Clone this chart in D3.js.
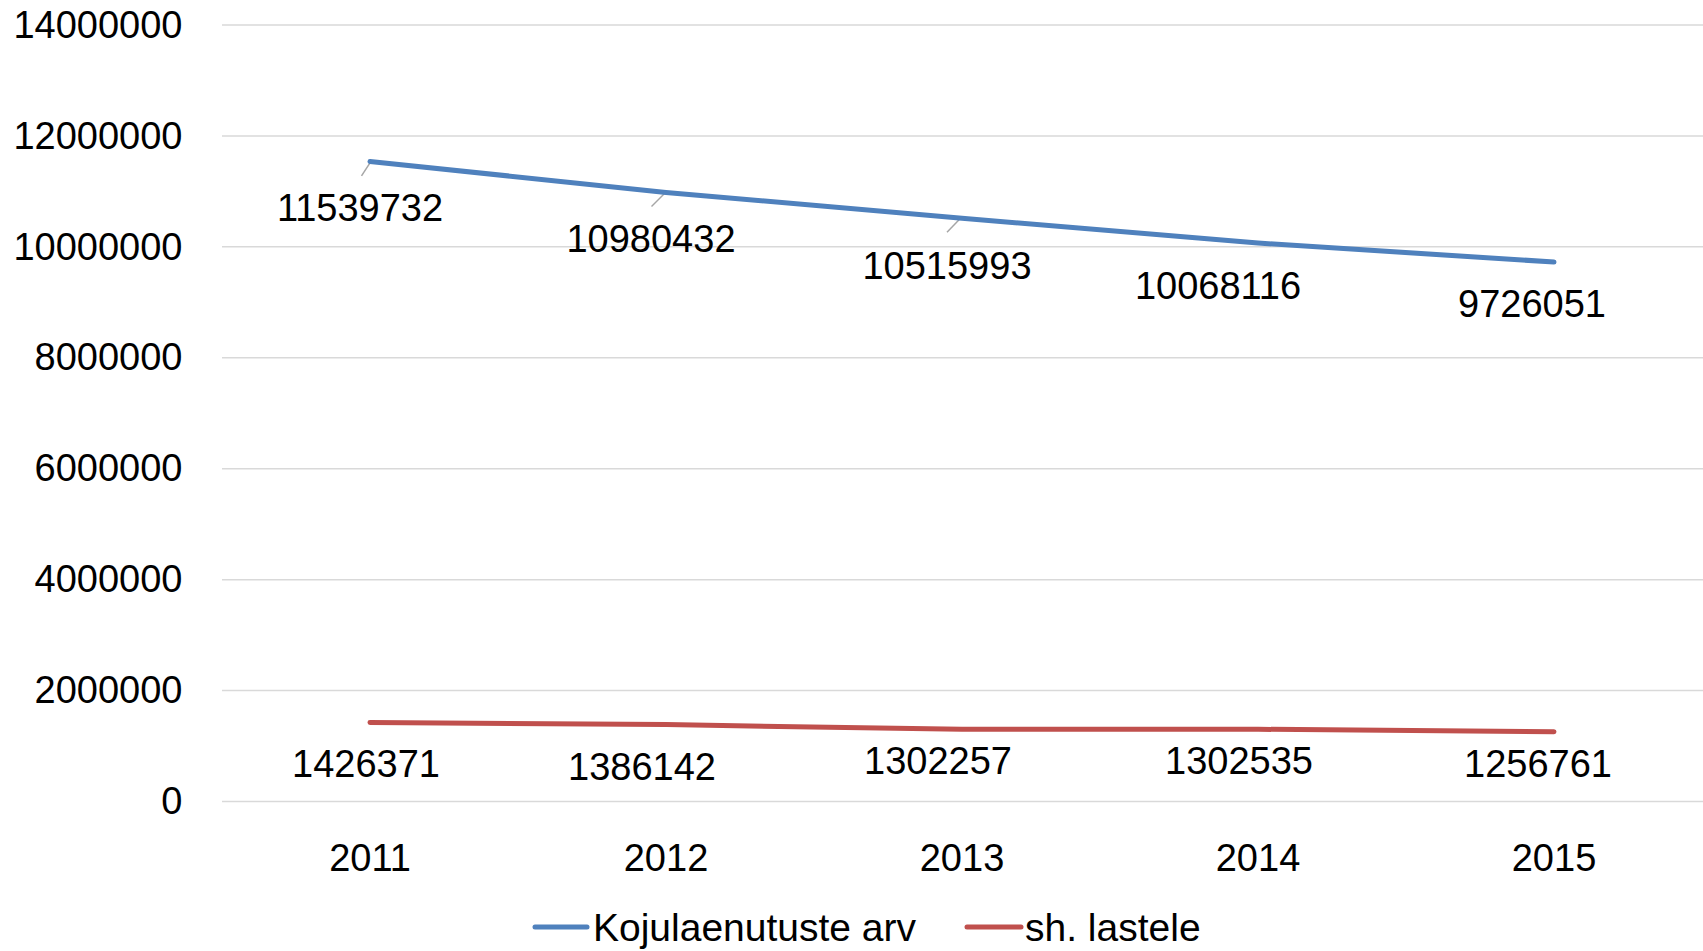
<!DOCTYPE html>
<html>
<head>
<meta charset="utf-8">
<script src="https://cdn.jsdelivr.net/npm/d3@7"></script>
<style>
  html, body { margin: 0; padding: 0; background: #fff; }
  svg { display: block; }
  text { font-family: "Liberation Sans", Arial, sans-serif; fill: #000; }
</style>
</head>
<body>
<svg id="chart" width="1703" height="951"></svg>
<script>
// ---- data ----
const years = ["2011", "2012", "2013", "2014", "2015"];
const seriesNames = ["Kojulaenutuste arv", "sh. lastele"];
const loans = [11539732, 10980432, 10515993, 10068116, 9726051];
const children = [1426371, 1386142, 1302257, 1302535, 1256761];
const yTicks = [0, 2000000, 4000000, 6000000, 8000000, 10000000, 12000000, 14000000];

// ---- layout / style (not data) ----
const W = 1703, H = 951;
const plot = { left: 222, right: 1702, top: 25, bottom: 801.5 };
const colors = ["#4f81bd", "#c0504d"];
const fontSize = 38;
// label nudges relative to each point [dx, dy]
const labelOffsets = [
  [[-10, 47], [-15, 46.5], [-15, 48], [-40, 42.5], [-22, 42]],
  [[-4, 42], [-24, 42], [-24, 32], [-19, 32], [-16, 32]]
];
// leader lines shown for some labels: [series, index, dx1, dy1, dx2, dy2]
const leaders = [
  [0, 0, 0, 1.5, -8.5, 14.5],
  [0, 1, -1.5, 1, -14.5, 14],
  [0, 2, -1.5, 0, -15, 14]
];

const svg = d3.select("#chart");

const x = d3.scaleBand().domain(years).range([plot.left, plot.right]).padding(0);
const y = d3.scaleLinear().domain([0, 14000000]).range([plot.bottom, plot.top]);
const cx = d => x(d) + x.bandwidth() / 2;

// gridlines
svg.append("g").selectAll("line").data(yTicks).join("line")
  .attr("x1", plot.left).attr("x2", W)
  .attr("y1", d => y(d)).attr("y2", d => y(d))
  .attr("stroke", "#d9d9d9").attr("stroke-width", 1.5);

// y axis labels
const yAxis = d3.axisLeft(y).tickValues(yTicks).tickSize(0).tickPadding(0)
  .tickFormat(d => String(d));
const gy = svg.append("g").attr("transform", `translate(182.5,0)`).call(yAxis);
gy.select(".domain").remove();
gy.selectAll("text").attr("font-size", fontSize)
  .attr("font-family", '"Liberation Sans", Arial, sans-serif').attr("fill", "#000");

// x axis labels
const xAxis = d3.axisBottom(x).tickSize(0).tickPadding(0);
const gx = svg.append("g").attr("transform", `translate(0,${plot.bottom})`).call(xAxis);
gx.select(".domain").remove();
gx.selectAll("text").attr("font-size", fontSize)
  .attr("font-family", '"Liberation Sans", Arial, sans-serif').attr("fill", "#000")
  .attr("dy", null).attr("y", 69.5);

const series = [loans, children];
const line = d3.line().x((d, i) => cx(years[i])).y(d => y(d));

// leader lines
svg.append("g").selectAll("line").data(leaders).join("line")
  .attr("x1", d => cx(years[d[1]]) + d[2])
  .attr("y1", d => y(series[d[0]][d[1]]) + d[3])
  .attr("x2", d => cx(years[d[1]]) + d[4])
  .attr("y2", d => y(series[d[0]][d[1]]) + d[5])
  .attr("stroke", "#a6a6a6").attr("stroke-width", 1.5);

// lines
svg.append("g").selectAll("path").data(series).join("path")
  .attr("d", d => line(d))
  .attr("fill", "none")
  .attr("stroke", (d, i) => colors[i])
  .attr("stroke-width", 5)
  .attr("stroke-linecap", "round")
  .attr("stroke-linejoin", "round");

// data labels
series.forEach((vals, si) => {
  svg.append("g").selectAll("text").data(vals).join("text")
    .attr("x", (d, i) => cx(years[i]) + labelOffsets[si][i][0])
    .attr("y", (d, i) => y(d) + labelOffsets[si][i][1])
    .attr("text-anchor", "middle")
    .attr("dominant-baseline", "central")
    .attr("font-size", fontSize)
    .text(d => String(d));
});

// legend
const legendY = 927;
const legendItems = [
  { x1: 535, x2: 587, tx: 593 },
  { x1: 967, x2: 1021, tx: 1025 }
];
const lg = svg.append("g").selectAll("g").data(seriesNames).join("g");
lg.append("line")
  .attr("x1", (d, i) => legendItems[i].x1).attr("x2", (d, i) => legendItems[i].x2)
  .attr("y1", legendY).attr("y2", legendY)
  .attr("stroke", (d, i) => colors[i]).attr("stroke-width", 5)
  .attr("stroke-linecap", "round");
lg.append("text")
  .attr("x", (d, i) => legendItems[i].tx)
  .attr("y", legendY)
  .attr("dominant-baseline", "central")
  .attr("font-size", 39)
  .text(d => d);
</script>
</body>
</html>
